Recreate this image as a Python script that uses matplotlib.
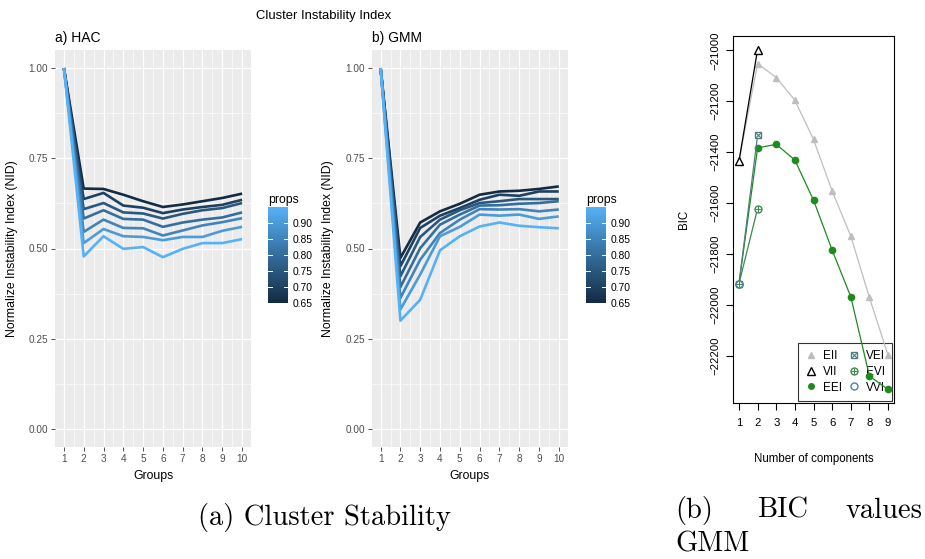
import numpy as np
import matplotlib
matplotlib.use("Agg")
import matplotlib.pyplot as plt
from matplotlib.colors import LinearSegmentedColormap, Normalize
from matplotlib.lines import Line2D
from matplotlib.legend_handler import HandlerTuple

plt.rcParams['font.family'] = ['Liberation Sans', 'DejaVu Sans']

# ---- data ----
groups = list(range(1, 11))
props = [0.65, 0.70, 0.75, 0.80, 0.85, 0.90, 0.95]

hac_nid = [
    [1.0, 0.666, 0.665, 0.649, 0.631, 0.615, 0.622, 0.631, 0.640, 0.652],
    [1.0, 0.637, 0.654, 0.619, 0.613, 0.598, 0.608, 0.615, 0.621, 0.635],
    [1.0, 0.609, 0.626, 0.600, 0.597, 0.583, 0.596, 0.606, 0.612, 0.626],
    [1.0, 0.583, 0.606, 0.582, 0.580, 0.560, 0.572, 0.580, 0.586, 0.600],
    [1.0, 0.546, 0.580, 0.557, 0.556, 0.536, 0.550, 0.564, 0.573, 0.584],
    [1.0, 0.515, 0.554, 0.534, 0.532, 0.523, 0.532, 0.532, 0.549, 0.560],
    [1.0, 0.478, 0.534, 0.499, 0.504, 0.476, 0.499, 0.515, 0.515, 0.526],
]

gmm_nid = [
    [1.0, 0.474, 0.572, 0.603, 0.624, 0.649, 0.658, 0.660, 0.665, 0.672],
    [1.0, 0.451, 0.557, 0.591, 0.612, 0.635, 0.649, 0.646, 0.658, 0.658],
    [1.0, 0.423, 0.532, 0.580, 0.606, 0.626, 0.631, 0.637, 0.637, 0.637],
    [1.0, 0.393, 0.501, 0.566, 0.594, 0.619, 0.620, 0.624, 0.626, 0.631],
    [1.0, 0.363, 0.469, 0.543, 0.580, 0.609, 0.608, 0.609, 0.603, 0.608],
    [1.0, 0.331, 0.428, 0.534, 0.560, 0.594, 0.591, 0.594, 0.582, 0.589],
    [1.0, 0.300, 0.358, 0.495, 0.534, 0.561, 0.572, 0.563, 0.559, 0.556],
]

components = list(range(1, 10))
bic_EII = [-21435, -21052, -21107, -21196, -21350, -21552, -21729, -21970, -22196]
bic_VII = [-21435, -20997]
bic_EEI = [-21916, -21383, -21369, -21431, -21588, -21784, -21967, -22278, -22331]
bic_VEI = [-21916, -21333]
bic_EVI = [-21916, -21621]
bic_VVI = [-21916]

W, H = 925, 559
fig = plt.figure(figsize=(W / 100, H / 100), dpi=100)


def box(left, top, right, bottom):
    return [left / W, 1 - bottom / H, (right - left) / W, (bottom - top) / H]


cmap = LinearSegmentedColormap.from_list('gg', ['#132B43', '#56B1F7'])
norm = Normalize(0.65, 0.95)


def gg_panel(rect, data, title, cbar_rect):
    ax = fig.add_axes(rect)
    ax.set_facecolor('#EBEBEB')
    for s in ax.spines.values():
        s.set_visible(False)
    ax.set_xlim(0.55, 10.45)
    ax.set_ylim(-0.05, 1.05)
    ax.set_xticks(groups)
    ax.set_yticks([0, 0.25, 0.5, 0.75, 1.0])
    ax.set_yticklabels(['0.00', '0.25', '0.50', '0.75', '1.00'])
    ax.set_xticks(np.arange(1.5, 10.5, 1), minor=True)
    ax.set_yticks([0.125, 0.375, 0.625, 0.875], minor=True)
    ax.grid(which='major', color='white', lw=0.9)
    ax.grid(which='minor', color='white', lw=0.45)
    ax.set_axisbelow(True)
    ax.tick_params(which='major', length=2.8, width=0.6, color='#333333',
                   labelcolor='#4D4D4D', labelsize=7.2, pad=2)
    ax.tick_params(which='minor', length=0)
    for p, vals in zip(props, data):
        ax.plot(groups, vals, color=cmap(norm(p)), lw=1.9, solid_capstyle='butt')
    ax.set_xlabel('Groups', fontsize=8.8)
    ax.xaxis.set_label_coords(0.5, -0.058)
    ax.set_ylabel('Normalize Instability Index (NID)', fontsize=8.8)
    ax.yaxis.set_label_coords(-0.19, 0.5)
    ax.set_title(title, loc='left', fontsize=10, pad=6)

    cax = fig.add_axes(cbar_rect)
    cax.imshow(np.linspace(0.65, 0.95, 256)[:, None], aspect='auto', origin='lower',
               extent=[0, 1, 0.65, 0.95], cmap=cmap, norm=norm)
    ticks = [0.65, 0.70, 0.75, 0.80, 0.85, 0.90]
    for t in ticks:
        cax.plot([0, 0.2], [t, t], color='white', lw=0.7)
        cax.plot([0.8, 1], [t, t], color='white', lw=0.7)
    cax.set_xlim(0, 1)
    cax.set_ylim(0.65, 0.95)
    for s in cax.spines.values():
        s.set_visible(False)
    cax.set_xticks([])
    cax.yaxis.tick_right()
    cax.set_yticks(ticks)
    cax.set_yticklabels(['%.2f' % t for t in ticks])
    cax.tick_params(axis='y', length=0, labelsize=7.4, pad=3, labelcolor='black')
    cax.set_title('props', loc='left', fontsize=8.8, pad=3)
    return ax


gg_panel(box(55, 50, 251, 447), hac_nid, 'a) HAC', box(268, 207, 288, 303))
gg_panel(box(371.7, 50, 567.7, 447), gmm_nid, 'b) GMM', box(586, 207, 606, 303))

fig.text(324 / W, 1 - 16 / H, 'Cluster Instability Index', ha='center', va='center',
         fontsize=9.4)

# ---- BIC panel ----
ax3 = fig.add_axes(box(733, 36, 894, 403))
ax3.set_xlim(0.68, 9.32)
ax3.set_ylim(-22384, -20944)
c_EEI = '#1E8B1E'
c_VEI = '#508476'
c_VEI = '#4F8080'
c_EVI = '#41884F'
c_VVI = '#4A85A1'
ax3.plot(components, bic_EII, color='#BEBEBE', lw=0.9, marker='^', ms=5,
         mfc='#BEBEBE', mec='#BEBEBE')
ax3.plot(components[:2], bic_VII, color='black', lw=0.9, marker='^', ms=5.5,
         mfc='white', mec='black')
ax3.plot(components, bic_EEI, color=c_EEI, lw=0.9, marker='o', ms=4.5,
         mfc=c_EEI, mec=c_EEI)
ax3.plot(components[:2], bic_VEI, color=c_VEI, lw=0.9, marker='s', ms=5,
         mfc='white', mec=c_VEI)
ax3.plot(components[:2], bic_VEI, ls='none', marker='x', ms=4, mec=c_VEI, mew=0.8)
ax3.plot(components[:2], bic_EVI, color=c_EVI, lw=0.9, marker='o', ms=5,
         mfc='white', mec=c_EVI)
ax3.plot(components[:2], bic_EVI, ls='none', marker='+', ms=5, mec=c_EVI, mew=0.8)
ax3.plot(components[:1], bic_VVI, ls='none', marker='o', ms=5, mfc='none', mec=c_VVI)

ax3.set_xticks(components)
ax3.set_yticks(np.arange(-21000, -22201, -200))
for lab in ax3.get_yticklabels():
    lab.set_rotation(90)
    lab.set_va('center')
ax3.tick_params(axis='both', length=5, width=0.8, labelsize=8.2, direction='out')
ax3.tick_params(axis='x', pad=6)
ax3.tick_params(axis='y', pad=4)
for s in ax3.spines.values():
    s.set_linewidth(0.8)
ax3.set_xlabel('Number of components', fontsize=8.3)
ax3.xaxis.set_label_coords(0.5, -0.136)
ax3.set_ylabel('BIC', fontsize=8.3)
ax3.yaxis.set_label_coords(-0.27, 0.5)

mk = dict(ls='none')
h_EII = Line2D([], [], marker='^', ms=5, color='#BEBEBE', **mk)
h_VII = Line2D([], [], marker='^', ms=5.5, mfc='none', mec='black', **mk)
h_EEI = Line2D([], [], marker='o', ms=4, color=c_EEI, **mk)
h_VEI = (Line2D([], [], marker='s', ms=5, mfc='none', mec=c_VEI, **mk),
         Line2D([], [], marker='x', ms=4, mec=c_VEI, mew=0.8, **mk))
h_EVI = (Line2D([], [], marker='o', ms=5, mfc='none', mec=c_EVI, **mk),
         Line2D([], [], marker='+', ms=5, mec=c_EVI, mew=0.8, **mk))
h_VVI = Line2D([], [], marker='o', ms=5, mfc='none', mec=c_VVI, **mk)
leg = ax3.legend([h_EII, h_VII, h_EEI, h_VEI, h_EVI, h_VVI],
                 ['EII', 'VII', 'EEI', 'VEI', 'EVI', 'VVI'],
                 ncol=2, loc='lower right', fontsize=8.5, handlelength=1.0,
                 handletextpad=0.5, columnspacing=0.5, labelspacing=0.3,
                 borderpad=0.6, borderaxespad=0.2, fancybox=False,
                 facecolor='none', framealpha=None,
                 edgecolor='black', handler_map={tuple: HandlerTuple(ndivide=1, pad=0)})
leg.get_frame().set_linewidth(0.8)
leg.set_zorder(1)

# ---- captions ----
cap = dict(family='cmr10', fontsize=20.5, va='baseline')
fig.text(324 / W, 1 - 525 / H, '(a) Cluster Stability', ha='center', **cap)
fig.text(675 / W, 1 - 518 / H, '(b)', ha='left', **cap)
fig.text(757 / W, 1 - 518 / H, 'BIC', ha='left', **cap)
fig.text(923 / W, 1 - 518 / H, 'values', ha='right', **cap)
fig.text(675 / W, 1 - 551 / H, 'GMM', ha='left', **cap)

fig.savefig('out.png', dpi=100)
